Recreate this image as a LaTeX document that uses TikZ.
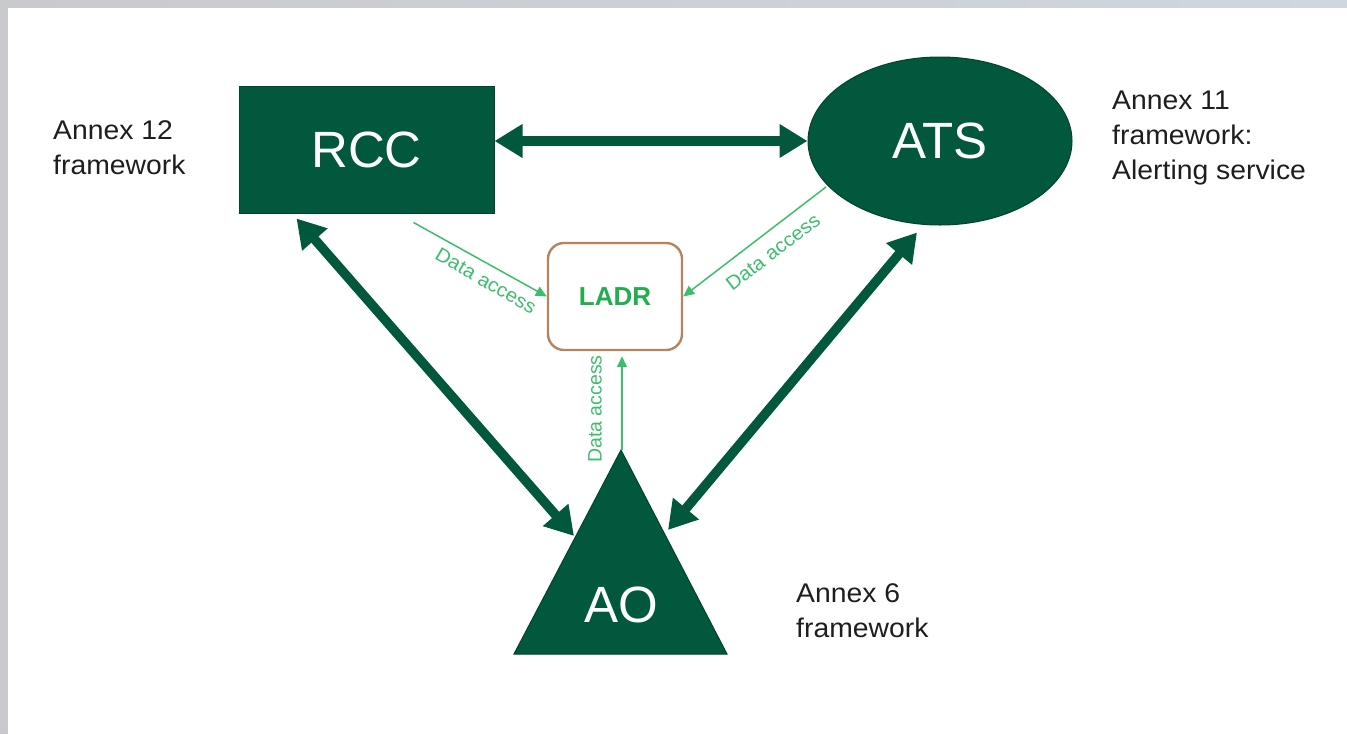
\documentclass[tikz,border=0pt]{standalone}
\usepackage{fontspec}
\setmainfont{Liberation Sans}
\usetikzlibrary{arrows.meta,shapes.geometric}
\definecolor{dkgreen}{HTML}{01583D}
\definecolor{edgegreen}{HTML}{00432E}
\definecolor{ltgreen}{HTML}{3DBE6E}
\definecolor{ladrtext}{HTML}{22AE4E}
\definecolor{ladrborder}{HTML}{B8835B}
\definecolor{framegray}{HTML}{C9CACD}
\definecolor{framebluegray}{HTML}{CFD6E0}
\definecolor{notetext}{HTML}{1E1E1E}
\begin{document}
\begin{tikzpicture}[x=1pt,y=-1pt,
  big/.style={line width=9.5pt, dkgreen,
    {Triangle[length=28pt,width=32pt]}-{Triangle[length=28pt,width=32pt]}},
  thinlink/.style={line width=1.5pt, ltgreen, -{Triangle[length=11pt,width=10pt]}},
  lbl/.style={font=\fontsize{19.5}{21}\selectfont, text=ltgreen, inner sep=0pt},
  note/.style={font=\fontsize{27}{35}\selectfont, text=notetext, align=left,
    anchor=north west, inner sep=0pt, xscale=1.05},
  bigtext/.style={font=\fontsize{51}{56}\selectfont, text=white},
]
\useasboundingbox (0,0) rectangle (1347,734);
\fill[white] (0,0) rectangle (1347,734);
% window frame strips
\shade[left color=framegray, right color=framebluegray] (0,0) rectangle (1347,7);
\fill[framegray] (0,0) rectangle (8,734);

% main parties
\node[draw=edgegreen, line width=1pt, fill=dkgreen, minimum width=255pt,
  minimum height=127pt, inner sep=0pt, bigtext] (rcc) at (366.5,149.5) {RCC};
\node[ellipse, draw=edgegreen, line width=1pt, fill=dkgreen, minimum width=264pt,
  minimum height=168pt, inner sep=0pt, bigtext] (ats) at (940,141) {ATS};
\fill[dkgreen, draw=edgegreen, line width=1pt] (514,654) -- (621,450) -- (727,654) -- cycle;
\node[bigtext] (ao) at (621,605) {AO};
\coordinate (aoapex) at (622,450);
\coordinate (aoL) at (574,536);
\coordinate (aoR) at (668,530);

% shared register
\node[draw=ladrborder, line width=2.4pt, rounded corners=16pt, fill=white,
  minimum width=134pt, minimum height=107pt, inner sep=0pt,
  font=\fontsize{26}{30}\selectfont\bfseries, text=ladrtext] (ladr) at (615,296.5) {LADR};

% cooperation links
\draw[big] (rcc.east |- ats.west) -- (ats.west);
\draw[big] ([shift={(58,5)}]rcc.south west) -- (aoL);
\draw[big] ([shift={(-23,7)}]ats.south) -- (aoR);

% data access links
\coordinate (atsdata) at (826,187);
\draw[thinlink] ([shift={(175,9)}]rcc.south west) -- (ladr.west);
\draw[thinlink] (atsdata) -- (ladr.east);
\draw[thinlink] (aoapex) -- ([shift={(7,5)}]ladr.south);
\node[lbl, rotate=-30, xscale=1.05] (da1) at (486,281) {Data access};
\node[lbl, rotate=37.5, xscale=1.05] (da2) at (773,252) {Data access};
\node[lbl, rotate=90] (da3) at (595,409) {Data access};

% frameworks
\node[note] (n12) at (53,120) {Annex 12\\framework};
\node[note] (n11) at (1112,91) {Annex 11\\framework:\\Alerting service};
\node[note] (n6) at (796,583) {Annex 6\\framework};
\end{tikzpicture}
\end{document}
